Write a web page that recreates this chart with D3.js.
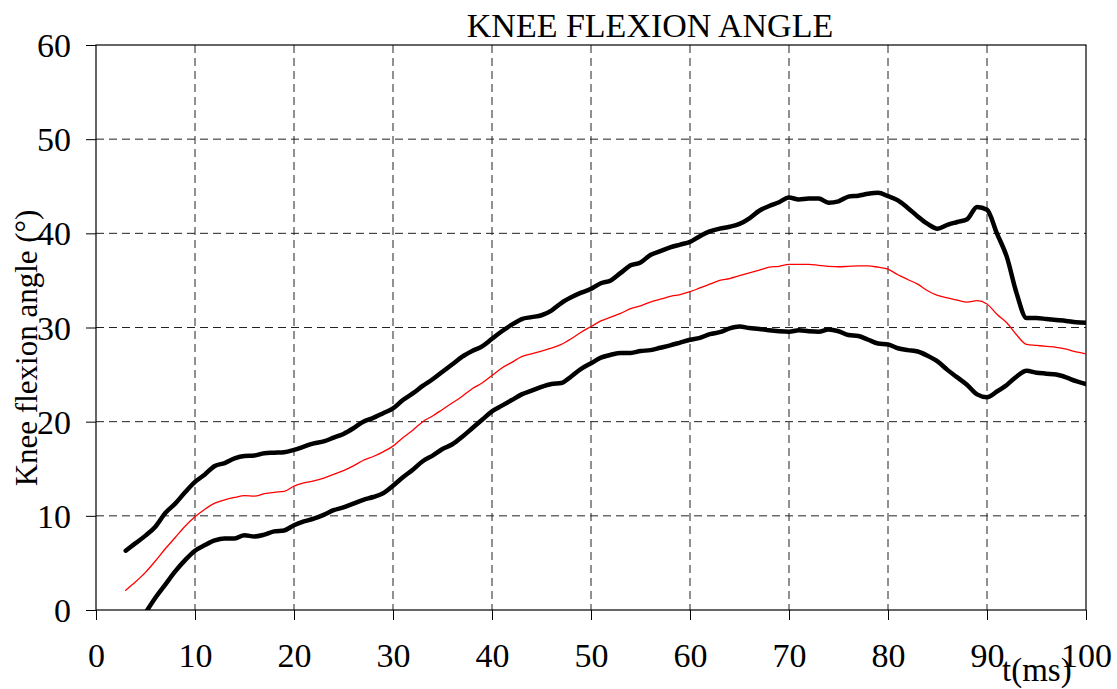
<!DOCTYPE html>
<html>
<head>
<meta charset="utf-8">
<script src="https://cdn.jsdelivr.net/npm/d3@7"></script>
<style>
  body { margin: 0; background: #fff; }
  text { font-family: "Liberation Serif", "Times New Roman", serif; fill: #000; }
</style>
</head>
<body>
<div id="chart"></div>
<script>
// time samples (ms)
var times = d3.range(3, 101);

// upper bound (thick black)
var upperValues = [
  6.3, 7.1, 7.9, 8.85, 10.3, 11.3, 12.5, 13.6, 14.4, 15.3,
  15.6, 16.1, 16.35, 16.4, 16.65, 16.7, 16.75, 17.0, 17.35, 17.7,
  17.9, 18.3, 18.7, 19.3, 20.0, 20.4, 20.9, 21.4, 22.3, 23.0,
  23.8, 24.5, 25.3, 26.1, 26.9, 27.5, 28.0, 28.8, 29.6, 30.3,
  30.9, 31.1, 31.3, 31.8, 32.6, 33.2, 33.7, 34.1, 34.7, 35.0,
  35.8, 36.6, 36.9, 37.7, 38.1, 38.5, 38.8, 39.1, 39.7, 40.2,
  40.5, 40.7, 41.0, 41.6, 42.4, 42.9, 43.3, 43.8, 43.6, 43.7,
  43.7, 43.25, 43.4, 43.9, 44.0, 44.2, 44.3, 43.95, 43.5, 42.7,
  41.8, 41.0, 40.5, 40.9, 41.2, 41.5, 42.8, 42.5, 40.0, 37.5,
  33.6, 31.0, 31.0, 30.9, 30.8, 30.7, 30.55, 30.5
];

// mean (thin red)
var meanValues = [
  2.1, 3.0, 4.0, 5.2, 6.5, 7.7, 8.9, 9.9, 10.7, 11.35,
  11.7, 11.95, 12.15, 12.1, 12.35, 12.5, 12.6, 13.15, 13.5, 13.7,
  14.0, 14.4, 14.8, 15.3, 15.9, 16.3, 16.8, 17.4, 18.3, 19.1,
  20.0, 20.6, 21.3, 22.0, 22.7, 23.5, 24.1, 24.9, 25.7, 26.3,
  26.9, 27.2, 27.5, 27.8, 28.2, 28.8, 29.5, 30.1, 30.7, 31.1,
  31.5, 32.0, 32.3, 32.7, 33.0, 33.3, 33.5, 33.8, 34.2, 34.6,
  35.0, 35.2, 35.5, 35.8, 36.1, 36.4, 36.5, 36.7, 36.7, 36.7,
  36.6, 36.5, 36.45, 36.5, 36.55, 36.55, 36.4, 36.2, 35.6, 35.1,
  34.6, 33.9, 33.4, 33.15, 32.9, 32.7, 32.85, 32.5, 31.4, 30.5,
  29.2, 28.2, 28.1, 28.0, 27.9, 27.7, 27.4, 27.2
];

// lower bound (thick black)
var lowerValues = [
  null, null, -0.3, 1.3, 2.7, 4.1, 5.3, 6.3, 6.9, 7.4,
  7.6, 7.6, 7.95, 7.8, 8.0, 8.35, 8.45, 9.0, 9.4, 9.7,
  10.1, 10.6, 10.9, 11.3, 11.7, 12.0, 12.4, 13.2, 14.1, 14.9,
  15.8, 16.4, 17.1, 17.6, 18.4, 19.3, 20.2, 21.1, 21.7, 22.3,
  22.9, 23.3, 23.7, 24.0, 24.1, 24.8, 25.6, 26.2, 26.8, 27.1,
  27.3, 27.3, 27.5, 27.6, 27.85, 28.1, 28.4, 28.7, 28.9, 29.3,
  29.5, 29.9, 30.1, 29.95, 29.85, 29.7, 29.6, 29.55, 29.7, 29.6,
  29.55, 29.8, 29.6, 29.2, 29.1, 28.7, 28.3, 28.2, 27.8, 27.6,
  27.45, 27.0, 26.4, 25.5, 24.7, 23.9, 22.9, 22.6, 23.2, 23.9,
  24.8, 25.4, 25.2, 25.1, 25.0, 24.7, 24.3, 24.0
];

var xTicks = d3.range(0, 101, 10);
var yTicks = d3.range(0, 61, 10);

var width = 1117, height = 689;
var margin = { top: 45, right: 31, bottom: 79, left: 96 };
var w = width - margin.left - margin.right;
var h = height - margin.top - margin.bottom;

var svg = d3.select('#chart').append('svg')
  .attr('width', width)
  .attr('height', height);

var x = d3.scaleLinear().domain([0, 100]).range([0, w]);
var y = d3.scaleLinear().domain([0, 60]).range([h, 0]);

var g = svg.append('g')
  .attr('transform', 'translate(' + margin.left + ',' + margin.top + ')');

// grid
g.append('g').selectAll('line.gx')
  .data(xTicks.filter(function (d) { return d > 0 && d < 100; }))
  .enter().append('line')
  .attr('x1', function (d) { return x(d); })
  .attr('x2', function (d) { return x(d); })
  .attr('y1', 0).attr('y2', h)
  .attr('stroke', '#222').attr('stroke-width', 1)
  .attr('stroke-dasharray', '8,5');

g.append('g').selectAll('line.gy')
  .data(yTicks.filter(function (d) { return d > 0 && d < 60; }))
  .enter().append('line')
  .attr('y1', function (d) { return y(d); })
  .attr('y2', function (d) { return y(d); })
  .attr('x1', 0).attr('x2', w)
  .attr('stroke', '#222').attr('stroke-width', 1)
  .attr('stroke-dasharray', '8,5');

// axes
var xAxis = d3.axisBottom(x).tickValues(xTicks).tickSize(10).tickPadding(23);
var yAxis = d3.axisLeft(y).tickValues(yTicks).tickSize(10).tickPadding(15);

var gx = g.append('g').attr('transform', 'translate(0,' + h + ')').call(xAxis);
var gy = g.append('g').call(yAxis);
[gx, gy].forEach(function (a) {
  a.select('.domain').remove();
  a.selectAll('line').attr('stroke', '#000');
  a.selectAll('text')
    .style('font-family', '"Liberation Serif", serif')
    .style('font-size', '34px')
    .attr('fill', '#000');
});
gy.selectAll('text').attr('dy', '0.34em');
gx.selectAll('text').attr('dy', '0.71em');

// frame
g.append('rect')
  .attr('width', w).attr('height', h)
  .attr('fill', 'none')
  .attr('stroke', '#000').attr('stroke-width', 1.2);

// lines
g.append('clipPath').attr('id', 'plot-clip')
  .append('rect').attr('width', w).attr('height', h);

function lineFor(values) {
  return d3.line()
    .defined(function (d, i) { return values[i] != null; })
    .x(function (d) { return x(d); })
    .y(function (d, i) { return y(values[i]); })
    .curve(d3.curveMonotoneX);
}

var series = [
  { values: upperValues, color: '#000', width: 4.5 },
  { values: lowerValues, color: '#000', width: 4.5 },
  { values: meanValues, color: '#ff0000', width: 1.3 }
];

g.append('g').attr('clip-path', 'url(#plot-clip)')
  .selectAll('path')
  .data(series)
  .enter().append('path')
  .attr('d', function (s) { return lineFor(s.values)(times); })
  .attr('fill', 'none')
  .attr('stroke', function (s) { return s.color; })
  .attr('stroke-width', function (s) { return s.width; })
  .attr('stroke-linejoin', 'round')
  .attr('stroke-linecap', 'round');

// title and labels
svg.append('text')
  .attr('x', 650).attr('y', 37)
  .attr('text-anchor', 'middle')
  .style('font-size', '34px')
  .text('KNEE FLEXION ANGLE');

svg.append('text')
  .attr('transform', 'translate(37,348) rotate(-90)')
  .attr('text-anchor', 'middle')
  .style('font-size', '31px')
  .text('Knee flexion angle (°)');

svg.append('text')
  .attr('x', 1002).attr('y', 681)
  .style('font-size', '33px')
  .text('t(ms)');
</script>
</body>
</html>
